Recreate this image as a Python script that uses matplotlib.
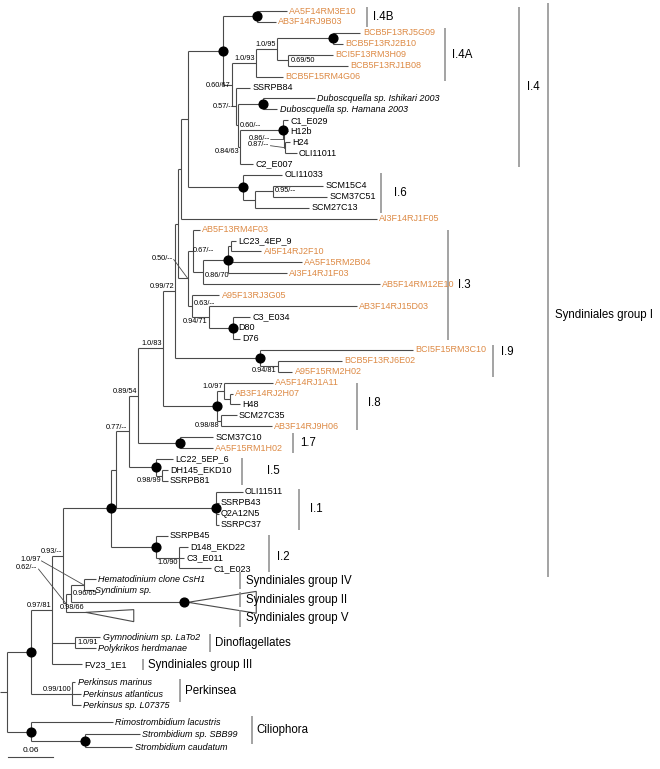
import re
import matplotlib.pyplot as plt
from matplotlib import rcParams

rcParams['font.family'] = ['Liberation Sans', 'DejaVu Sans']

# newick pieces, branch lengths in substitutions/site
# internal labels = posterior prob. / ML bootstrap, '*' = fully supported (filled circle)
clade_I4B = "(AA5F14RM3E10:0.040,AB3F14RJ9B03:0.025)*"
clade_I4A = ("(((BCB5F13RJ5G09:0.036,BCB5F13RJ2B10:0.013)*:0.075,"
             "(BCI5F13RM3H09:0.059,BCB5F13RJ1B08:0.079)0.69/50:0.015)1.0/95:0.028,"
             "BCB5F15RM4G06:0.036)1.0/93")
clade_H12b = "(C1_E029:0.007,(H12b:0.005,(H24:0.007,OLI11011:0.016)0.87/--:0.001)0.86/--:0.001)*"
clade_I4_rest = ("(SSRPB84:0.019,(('Duboscquella sp. Ishikari 2003':0.069,"
                 "'Duboscquella sp. Hamana 2003':0.019)*:0.033,"
                 "(" + clade_H12b + ":0.057,C2_E007:0.017)0.84/63:0.003)0.60/--:0.003)0.57/--")
clade_I4 = ("(" + clade_I4B + ":0.045,(" + clade_I4A + ":0.032,"
            + clade_I4_rest + ":0.005)0.60/67:0.012)*")
clade_I6 = "(OLI11033:0.053,((SCM15C4:0.067,SCM37C51:0.073)0.95/--:0.024,SCM27C13:0.073):0.016)*"
clade_I3 = ("((AB5F13RM4F03:0.009,(((LC23_4EP_9:0.007,AI5F14RJ2F10:0.041)0.67/--:0.004,"
            "AA5F15RM2B04:0.099,AI3F14RJ1F03:0.079)*:0.033,AB5F14RM12E10:0.236)0.86/70:0.013):0.007,"
            "(A95F13RJ3G05:0.037,(AB3F14RJ15D03:0.197,(C3_E034:0.023,D80:0.004,D76:0.009)*:0.032)"
            "0.94/71:0.023)0.63/--:0.005)0.50/--")
clade_I9 = "(BCI5F15RM3C10:0.204,(BCB5F13RJ6E02:0.085,A95F15RM2H02:0.019)0.94/81:0.024)*"
clade_I8 = ("((AA5F14RJ1A11:0.065,(AB3F14RJ2H07:0.004,H48:0.013):0.008)1.0/97:0.009,"
            "(SCM27C35:0.021,AB3F14RJ9H06:0.068)0.98/88:0.005)*")
clade_I7 = "(SCM37C10:0.044,AA5F15RM1H02:0.043)*"
clade_I5 = "(LC22_5EP_6:0.023,(DH145_EKD10:0.007,SSRPB81:0.007)0.98/99:0.009)*"
clade_I1 = "(OLI11511:0.036,SSRPB43:0.004,Q2A12N5:0.004,SSRPC37:0.004)*"
clade_I2 = "(SSRPB45:0.016,(D148_EKD22:0.012,C3_E011:0.007,C1_E023:0.043)1.0/90:0.031)*"

group_I = ("(((((((((" + clade_I4 + ":0.047," + clade_I6 + ":0.073):0.009,AI3F14RJ1F05:0.261):0.004,"
           + clade_I3 + ":0.013):0.004," + clade_I9 + ":0.113)0.99/72:0.016,"
           + clade_I8 + ":0.072)1.0/83:0.033," + clade_I7 + ":0.056)0.89/54:0.013,"
           + clade_I5 + ":0.036)0.77/--:0.017," + clade_I1 + ":0.133):0.007,"
           + clade_I2 + ":0.060)*")
group_IV_II = ("(('Hematodinium clone CsH1':0.016,'Syndinium sp.':0.012)1.0/97:0.017,"
               "'Syndiniales group II':0.151)0.96/65")
dinos = "('Gymnodinium sp. LaTo2':0.033,'Polykrikos herdmanae':0.027)1.0/91"
others = ("((" + group_I + ":0.063,(" + group_IV_II + ":0.007,'Syndiniales group V':0.027)0.62/--:0.003)"
          "0.93/--:0.015," + dinos + ":0.031,FV23_1E1:0.040)0.97/81")
perkinsea = "('Perkinsus marinus':0.004,'Perkinsus atlanticus':0.011,'Perkinsus sp. L07375':0.011)0.99/100"
ciliophora = ("('Rimostrombidium lacustris':0.109,('Strombidium sp. SBB99':0.073,"
              "'Strombidium caudatum':0.063)*:0.072)*")
tree = "((" + others + ":0.028," + perkinsea + ":0.055)*:0.032," + ciliophora + ":0.032);"

# environmental sequences from this study
orange_leaves = ['AA5F14RM3E10', 'AB3F14RJ9B03', 'BCB5F13RJ5G09', 'BCB5F13RJ2B10', 'BCI5F13RM3H09',
                 'BCB5F13RJ1B08', 'BCB5F15RM4G06', 'AI3F14RJ1F05', 'AB5F13RM4F03', 'AI5F14RJ2F10',
                 'AA5F15RM2B04', 'AI3F14RJ1F03', 'AB5F14RM12E10', 'A95F13RJ3G05', 'AB3F14RJ15D03',
                 'BCI5F15RM3C10', 'BCB5F13RJ6E02', 'A95F15RM2H02', 'AA5F14RJ1A11', 'AB3F14RJ2H07',
                 'AB3F14RJ9H06', 'AA5F15RM1H02']
italic_leaves = ['Duboscquella sp. Ishikari 2003', 'Duboscquella sp. Hamana 2003', 'Hematodinium clone CsH1',
                 'Syndinium sp.', 'Gymnodinium sp. LaTo2', 'Polykrikos herdmanae', 'Perkinsus marinus',
                 'Perkinsus atlanticus', 'Perkinsus sp. L07375', 'Rimostrombidium lacustris',
                 'Strombidium sp. SBB99', 'Strombidium caudatum']
# collapsed clades: depth of triangle, support
collapsed_depth = {'Syndiniales group II': 0.091, 'Syndiniales group V': 0.064}
collapsed_support = {'Syndiniales group II': '*', 'Syndiniales group V': '0.98/66'}

# clade bars: label, first leaf, last leaf, bar x (px), text x (px), pad top/bottom (rows), text dy (px)
clade_bars = [
    ('I.4B', 'AA5F14RM3E10', 'AB3F14RJ9B03', 367, 373, 0.4, 0.45, 0),
    ('I.4A', 'BCB5F13RJ5G09', 'BCB5F15RM4G06', 445, 452, 0.45, 0.45, 0),
    ('I.4', 'AA5F14RM3E10', 'C2_E007', 519, 527, 0.4, 0.3, 0),
    ('I.6', 'OLI11033', 'SCM27C13', 381, 394, 0.2, 0.45, 0),
    ('I.3', 'AB5F13RM4F03', 'D76', 448, 458, 0.0, 0.1, 0),
    ('I.9', 'BCI5F15RM3C10', 'A95F15RM2H02', 493, 501, 0.45, 0.5, -9),
    ('I.8', 'AA5F14RJ1A11', 'AB3F14RJ9H06', 357, 368, 0.0, 0.35, -3),
    ('1.7', 'SCM37C10', 'AA5F15RM1H02', 293, 300, 0.35, 0.45, 0),
    ('I.5', 'LC22_5EP_6', 'SSRPB81', 242, 267, 0.1, 0.35, 0),
    ('I.1', 'OLI11511', 'SSRPC37', 299, 310, 0.3, 0.45, 0),
    ('I.2', 'SSRPB45', 'C1_E023', 269, 277, 0.05, 0.35, 3),
    ('Syndiniales group I', 'AA5F14RM3E10', 'C1_E023', 548, 555, 0.75, 0.8, 25),
    ('Syndiniales group IV', 'Hematodinium clone CsH1', 'Syndinium sp.', 240, 246, 0.65, -0.1, 0),
    ('Syndiniales group II', 'Syndiniales group II', 'Syndiniales group II', 240, 246, 0.9, 0.45, 0),
    ('Syndiniales group V', 'Syndiniales group V', 'Syndiniales group V', 240, 246, 0.2, 1.3, 0),
    ('Dinoflagellates', 'Gymnodinium sp. LaTo2', 'Polykrikos herdmanae', 210, 215, 0.3, 0.3, 0),
    ('Syndiniales group III', 'FV23_1E1', 'FV23_1E1', 143, 148, 0.45, 0.55, 0),
    ('Perkinsea', 'Perkinsus marinus', 'Perkinsus sp. L07375', 180, 185, 0.3, -0.3, 0),
    ('Ciliophora', 'Rimostrombidium lacustris', 'Strombidium caudatum', 252, 256, 0.55, -0.3, 0),
]

# vertical spacing between consecutive tips (rows), default 1
row_step = {'Syndiniales group II': 1.1, 'Syndiniales group V': 0.92, 'Gymnodinium sp. LaTo2': 2.29,
            'FV23_1E1': 1.47, 'Perkinsus marinus': 1.65, 'Perkinsus atlanticus': 1.1,
            'Rimostrombidium lacustris': 1.55, 'Strombidium sp. SBB99': 1.1, 'Strombidium caudatum': 1.2}

# where to put support values: (mode, dx px, dy px), keyed by (first tip, last tip)
label_place = {
    ('Hematodinium clone CsH1', 'Syndiniales group V'): ('leader', -28, -35),
    ('Hematodinium clone CsH1', 'Syndinium sp.'): ('leader', -43, -25),
    ('Hematodinium clone CsH1', 'Syndiniales group II'): ('right', 0, 0),
    ('Gymnodinium sp. LaTo2', 'Polykrikos herdmanae'): ('right', 0, 0),
    ('AB5F13RM4F03', 'D76'): ('leader', -15, -20),
    ('LC23_4EP_9', 'AI5F14RJ2F10'): ('mid', -14, 5),
    ('LC23_4EP_9', 'AB5F14RM12E10'): ('right', 0, 4),
    ('A95F13RJ3G05', 'D76'): ('right', 0, -3),
    ('AB3F14RJ15D03', 'D76'): ('below', 0, 0),
    ('BCB5F13RJ6E02', 'A95F15RM2H02'): ('below', 0, 0),
    ('SCM27C35', 'AB3F14RJ9H06'): ('below', 0, 0),
    ('DH145_EKD10', 'SSRPB81'): ('below', 0, 0),
    ('D148_EKD22', 'C1_E023'): ('below', 0, 0),
    ('BCI5F13RM3H09', 'BCB5F13RJ1B08'): ('right', 0, 0),
    ('BCB5F13RJ5G09', 'C2_E007'): ('mid', 0, 1),
    ('SSRPB84', 'C2_E007'): ('mid', 0, 0),
    ('Duboscquella sp. Ishikari 2003', 'C2_E007'): ('right', 0, 0),
    ('C1_E029', 'C2_E007'): ('below', 0, 0),
    ('H12b', 'OLI11011'): ('leader', -14, -1),
    ('H24', 'OLI11011'): ('leader', -15, -3),
    ('SCM15C4', 'SCM37C51'): ('right', 0, -1),
}

ORANGE = '#DD8A45'
LINE = '#4a4a4a'
BAR = '#8a8a8a'
LW = 0.8
PX = 1 / 750.0      # substitutions per pixel (0.06 = 45 px)
ROW = 10.93         # pixels per tip row
X0 = 7              # root position in pixels
Y0 = 11             # first tip in pixels


def parse_newick(s):
    pos = 0

    def read():
        nonlocal pos
        node = {'children': [], 'name': '', 'length': 0.0}
        if s[pos] == '(':
            pos += 1
            while True:
                node['children'].append(read())
                ch = s[pos]
                pos += 1
                if ch == ')':
                    break
        if s[pos] == "'":
            end = s.index("'", pos + 1)
            node['name'] = s[pos + 1:end]
            pos = end + 1
        else:
            m = re.match(r"[^:,();']*", s[pos:])
            node['name'] = m.group(0)
            pos += m.end()
        if s[pos] == ':':
            m = re.match(r":([0-9.]+)", s[pos:])
            node['length'] = float(m.group(1))
            pos += m.end()
        return node
    return read()


root = parse_newick(tree)
tips = {}
state = {'row': None}


def layout(node, x_parent):
    node['x'] = x_parent + node['length']
    if node['children']:
        for c in node['children']:
            layout(c, node['x'])
        node['y'] = (node['children'][0]['y'] + node['children'][-1]['y']) / 2
        node['first'] = node['children'][0]['first']
        node['last'] = node['children'][-1]['last']
    else:
        r = 0 if state['row'] is None else state['row'] + row_step.get(node['name'], 1)
        state['row'] = r
        node['y'] = r
        node['first'] = node['last'] = node['name']
        tips[node['name']] = node


layout(root, 0.0)

fig = plt.figure(figsize=(6.6, 7.69), dpi=100)
ax = fig.add_axes([0, 0, 1, 1])
ax.set_xlim(-X0 * PX, (660 - X0) * PX)
ax.set_ylim((769 - Y0) / ROW, -Y0 / ROW)
ax.axis('off')


def support(node, label):
    x, y = node['x'], node['y']
    if label == '*':
        ax.plot(x, y, 'o', color='black', ms=6.3, zorder=5)
        return
    mode, dx, dy = label_place.get((node['first'], node['last']), ('above', 0, 0))
    fs = 5.3
    if mode == 'above':
        ax.text(x - 1 * PX, y - 0.08, label, fontsize=fs, ha='right', va='bottom')
    elif mode == 'below':
        ax.text(x - 1 * PX, y + 0.1, label, fontsize=fs, ha='right', va='top')
    elif mode == 'mid':
        ax.text(x + (dx - 2) * PX, y + dy / ROW, label, fontsize=fs, ha='right', va='center')
    elif mode == 'right':
        ax.text(x + 2 * PX, y + dy / ROW, label, fontsize=fs, ha='left', va='center')
    else:
        tx, ty = x + dx * PX, y + dy / ROW
        ax.text(tx, ty, label, fontsize=fs, ha='right', va='center')
        ax.plot([tx + 1 * PX, x], [ty + 0.1, y], color=LINE, lw=0.6)


def draw(node, x_parent):
    ax.plot([x_parent, node['x']], [node['y'], node['y']], color=LINE, lw=LW, solid_capstyle='butt')
    if node['children']:
        ys = [c['y'] for c in node['children']]
        ax.plot([node['x'], node['x']], [min(ys), max(ys)], color=LINE, lw=LW, solid_capstyle='butt')
        for c in node['children']:
            draw(c, node['x'])
        if node['name']:
            support(node, node['name'])
    elif node['name'] in collapsed_depth:
        name = node['name']
        sup = collapsed_support[name]
        x, y = node['x'], node['y']
        if sup == '*':
            ax.plot(x, y, 'o', color='black', ms=6.3, zorder=5)
            apex = x + 4 * PX
            ax.plot([x, apex], [y, y], color=LINE, lw=LW)
            top, bot = y - 1.0, y + 1.0
        else:
            apex = x
            ax.text(x - 1 * PX, y - 0.08, sup, fontsize=5.3, ha='right', va='bottom')
            top, bot = y - 0.25, y + 0.85
        d = collapsed_depth[name]
        ax.fill([apex, apex + d, apex + d], [y, top, bot], facecolor='white', edgecolor=LINE, lw=LW)
    else:
        name = node['name']
        ax.text(node['x'] + 2.5 * PX, node['y'], name, fontsize=6.5, va='center', ha='left',
                color=ORANGE if name in orange_leaves else 'black',
                style='italic' if name in italic_leaves else 'normal')


draw(root, -X0 * PX)

for label, first, last, bx, tx, ptop, pbot, tdy in clade_bars:
    y1 = tips[first]['y'] - ptop
    y2 = tips[last]['y'] + pbot
    xb = (bx - X0) * PX
    ax.plot([xb, xb], [y1, y2], color=BAR, lw=1.1, solid_capstyle='butt')
    ax.text((tx - X0) * PX, (y1 + y2) / 2 + tdy / ROW, label, fontsize=8.3, ha='left', va='center')

# scale bar
ys = (757 - Y0) / ROW
xs = (8 - X0) * PX
ax.plot([xs, xs + 0.06], [ys, ys], color=LINE, lw=LW)
ax.text(xs + 0.03, ys - 0.3, '0.06', fontsize=6, ha='center', va='bottom')

fig.savefig('out.png', dpi=100)
